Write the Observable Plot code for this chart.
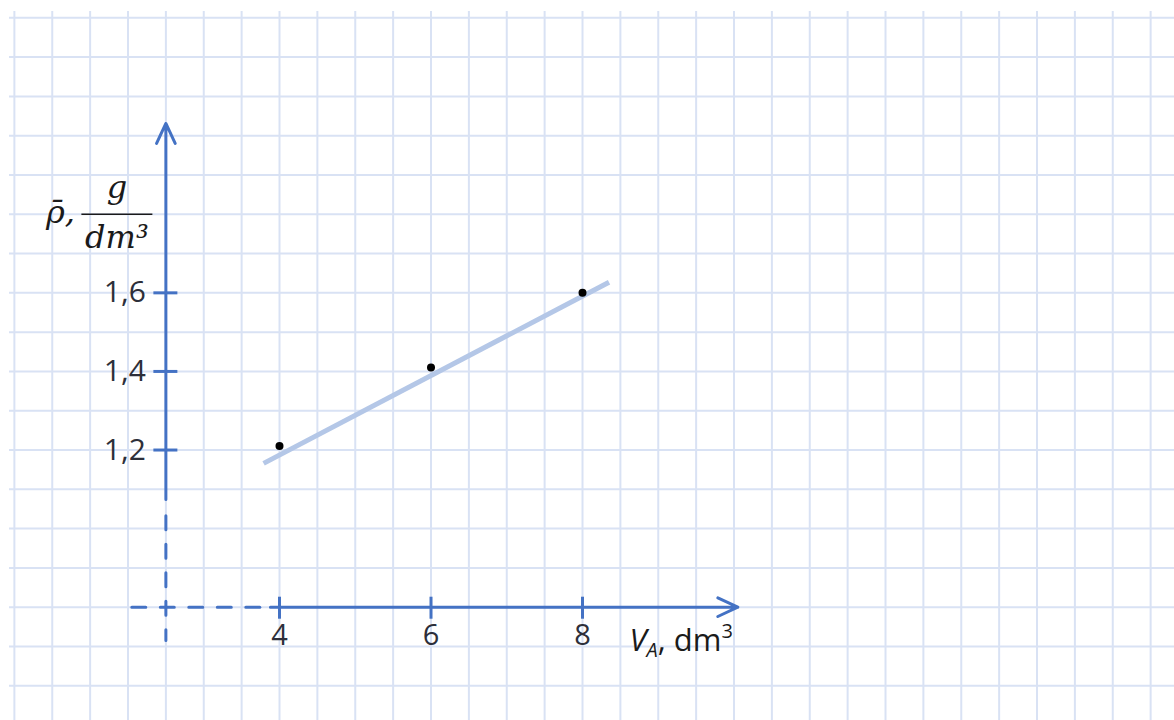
<!DOCTYPE html>
<html>
<head>
<meta charset="utf-8">
<script src="https://cdn.jsdelivr.net/npm/d3@7"></script>
<script src="https://cdn.jsdelivr.net/npm/@observablehq/plot@0.6"></script>
<style>
html,body{margin:0;padding:0;background:#fff;overflow:hidden;}
</style>
</head>
<body>
<div id="chart"></div>
<script>
// ---- data ----
const volumes = [4, 6, 8];
const densities = [1.21, 1.41, 1.60];
const fitVolumes = [3.79, 8.35];
const fitDensities = [1.166, 1.627];
const xTickValues = [4, 6, 8];
const xTickLabels = ["4", "6", "8"];
const yTickValues = [1.2, 1.4, 1.6];
const yTickLabels = ["1,2", "1,4", "1,6"];
const xTitleParts = ["V", "A", ", dm", "3"];
const yTitleSymbol = "ρ̄,";
const yTitleNumerator = "g";
const yTitleDenominator = "dm³";

const points = volumes.map((v, i) => ({volume: v, density: densities[i]}));
const fit = fitVolumes.map((v, i) => ({volume: v, density: fitDensities[i]}));
const xTicks = xTickValues.map((v, i) => ({value: v, label: xTickLabels[i]}));
const yTicks = yTickValues.map((v, i) => ({value: v, label: yTickLabels[i]}));

// ---- layout ----
const W = 1174, H = 720, mL = 9, mT = 11;
const xDomain = [0.4356, 15.815], yDomain = [0.5117, 2.316];
const pxX = (W - mL) / (xDomain[1] - xDomain[0]);
const pxY = (H - mT) / (yDomain[1] - yDomain[0]);
const gridX = d3.range(1, 32).map(k => k * 0.5);
const gridY = d3.range(6, 24).map(k => k / 10);
const yAxisX = 2.5, xAxisY = 0.8;
const AX = "#4472c4";
const GRID = "#d9e2f4";
const tickFont = "Open Sans";
const mathFont = "DejaVu Serif";
const xTitleText = xTitleParts.join("");

const svg = Plot.plot({
  width: W, height: H,
  marginLeft: mL, marginTop: mT, marginRight: 0, marginBottom: 0,
  x: {domain: xDomain, axis: null},
  y: {domain: yDomain, axis: null},
  style: {background: "#fff", fontFamily: tickFont},
  marks: [
    Plot.ruleX(gridX, {stroke: GRID, strokeWidth: 2}),
    Plot.ruleY(gridY, {stroke: GRID, strokeWidth: 2}),
    // fitted line
    Plot.line(fit, {x: "volume", y: "density", stroke: "#b4c7e7", strokeWidth: 5, strokeLinecap: "butt"}),
    // y axis
    Plot.arrow([0], {x1: yAxisX, y1: 1.074, x2: yAxisX, y2: 2.031, stroke: AX, strokeWidth: 3,
      headLength: 11, headAngle: 50, strokeLinejoin: "round"}),
    Plot.line([[yAxisX, 1.033], [yAxisX, 0.715]], {stroke: AX, strokeWidth: 3, strokeDasharray: "14,14.5"}),
    // x axis
    Plot.arrow([0], {x1: 3.88, y1: xAxisY, x2: 10.05, y2: xAxisY, stroke: AX, strokeWidth: 3,
      headLength: 11, headAngle: 50, strokeLinejoin: "round"}),
    Plot.line([[2.05, xAxisY], [3.74, xAxisY]], {stroke: AX, strokeWidth: 3, strokeDasharray: "14,14.5"}),
    // ticks
    Plot.ruleX(xTicks, {x: "value", y1: xAxisY - 12 / pxY, y2: xAxisY + 10 / pxY, stroke: AX, strokeWidth: 3}),
    Plot.ruleY(yTicks, {y: "value", x1: yAxisX - 12 / pxX, x2: yAxisX + 12 / pxX, stroke: AX, strokeWidth: 3}),
    // tick labels
    Plot.text(xTicks, {x: "value", y: xAxisY, text: "label", dy: 38, lineAnchor: "bottom",
      fontSize: 29, fill: "#2d2f3a", fontFamily: tickFont}),
    Plot.text(yTicks, {x: yAxisX, y: "value", text: "label", dx: -20, textAnchor: "end", lineAnchor: "middle",
      fontSize: 30, fill: "#2d2f3a", fontFamily: tickFont}),
    // data points
    Plot.dot(points, {x: "volume", y: "density", r: 4, fill: "#000", stroke: "none"}),
    // x title
    Plot.text([xTitleText], {x: xTickValues[2], y: xAxisY, dx: 47, dy: 44, textAnchor: "start",
      lineAnchor: "bottom", fontSize: 31, fill: "#1a1a1a", fontFamily: tickFont}),
    // y title
    Plot.text([yTitleSymbol], {x: yAxisX, y: 1.8, dx: -120, dy: 9, textAnchor: "start", lineAnchor: "bottom",
      fontSize: 32, fontStyle: "italic", fill: "#1a1a1a", fontFamily: mathFont}),
    Plot.text([yTitleNumerator], {x: yAxisX, y: 1.8, dx: -49, dy: -16, lineAnchor: "bottom",
      fontSize: 32, fontStyle: "italic", fill: "#1a1a1a", fontFamily: mathFont}),
    Plot.ruleY([1.8], {x1: yAxisX - 84 / pxX, x2: yAxisX - 13 / pxX, stroke: "#1a1a1a", strokeWidth: 1.5}),
    Plot.text([yTitleDenominator], {x: yAxisX, y: 1.8, dx: -49, dy: 34, lineAnchor: "bottom",
      fontSize: 32, fontStyle: "italic", fill: "#1a1a1a", fontFamily: mathFont})
  ]
});

// rich text for the x title (italic V, subscript A, superscript 3)
d3.select(svg).selectAll("text").filter(function () { return this.textContent === xTitleText; })
  .each(function () {
    const xt = d3.select(this);
    xt.text(null);
    xt.append("tspan").attr("font-style", "italic").text(xTitleParts[0]);
    xt.append("tspan").attr("font-style", "italic").attr("font-size", 20).attr("dy", 6).text(xTitleParts[1]);
    xt.append("tspan").attr("dy", -6).text(xTitleParts[2]);
    xt.append("tspan").attr("font-size", 20).attr("dy", -13).text(xTitleParts[3]);
  });

document.getElementById("chart").appendChild(svg);
</script>
</body>
</html>
